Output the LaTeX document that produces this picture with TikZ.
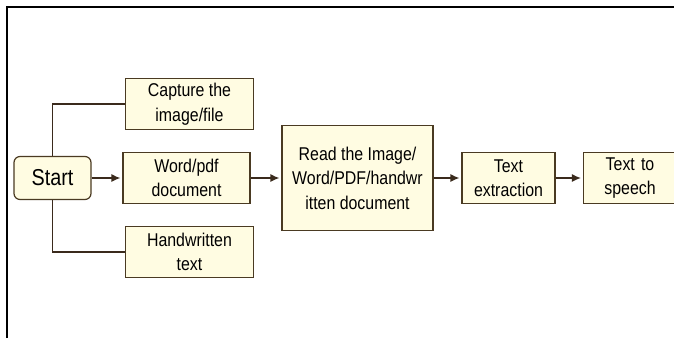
\documentclass[tikz,border=0pt]{standalone}
\usepackage{fontspec}
\setmainfont[FakeStretch=0.86]{Liberation Sans}
\usetikzlibrary{positioning,arrows.meta}

\definecolor{boxfill}{HTML}{FFFCE2}
\definecolor{boxline}{HTML}{4A3A22}
\definecolor{wire}{HTML}{3A2A1C}

\tikzset{
  stepbox/.style={draw=boxline,fill=boxfill,line width=1.2pt,inner sep=0pt,
    align=center,font=\fontsize{18.5}{24.5}\selectfont,
    minimum width=128pt,minimum height=51pt},
  flow/.style={-{Latex[length=9pt,width=8pt]},wire,line width=1.2pt,shorten >=2pt},
  branch/.style={wire,line width=1.2pt}
}

\begin{document}
\begin{tikzpicture}[x=1pt,y=-1pt,node distance=134pt,on grid]
\useasboundingbox (0,0) rectangle (674,338);
\draw[line width=2pt] (7,338) -- (7,7) -- (674,7);

\node[stepbox,rounded corners=6pt,minimum width=77pt,minimum height=43pt,
  font=\fontsize{23}{24}\selectfont] (start) at (52.5,178) {Start};
\node[stepbox,minimum width=127pt] (word) [right=of start] {Word/pdf\\document};
\node[stepbox] (capture) [above=74pt of word,xshift=3pt] {Capture the\\image/file};
\node[stepbox] (hand) [below=74pt of word,xshift=3pt] {Handwritten\\text};
\node[stepbox,minimum width=151pt,minimum height=105pt] (read) [right=171pt of word]
  {Read the Image/\\Word/PDF/handwr\\itten document};
\node[stepbox,minimum width=93pt] (extract) [right=151pt of read] {Text\\extraction};
% box runs on past the right edge of the page
\node[stepbox,minimum width=120pt,text width=120pt,align=left] (speech) [right=135pt of extract]
  {\makebox[93pt]{Text to}\\\makebox[93pt]{speech}};

\draw[branch] (start.north) |- (capture.west);
\draw[branch] (start.south) |- (hand.west);
\draw[flow] (start) -- (word);
\draw[flow] (word) -- (read);
\draw[flow] (read) -- (extract);
\draw[flow] (extract) -- (speech);
\end{tikzpicture}
\end{document}
